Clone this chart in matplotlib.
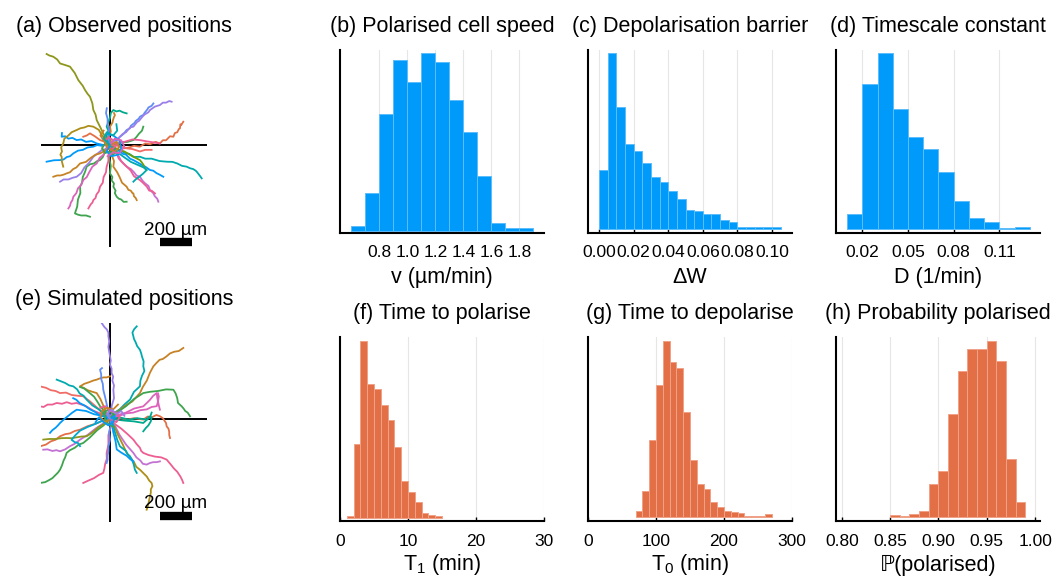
import numpy as np
import matplotlib.pyplot as plt

plt.rcParams['font.family'] = ['Liberation Sans', 'DejaVu Sans']
plt.rcParams['mathtext.fontset'] = 'custom'
plt.rcParams['mathtext.rm'] = 'Liberation Sans'
plt.rcParams['mathtext.it'] = 'Liberation Sans:italic'

BLUE = '#009AFA'
ORANGE = '#E36F47'

# ---- histogram data: first bin edge, bin width, bar heights (arbitrary units) ----
speed_start, speed_width = 0.6, 0.1
speed_counts = [13, 114, 350, 510, 444, 530, 503, 392, 294, 163, 23, 7, 9]
speed_ticks = [0.8, 1.0, 1.2, 1.4, 1.6, 1.8]

barrier_start, barrier_width = 0.0, 0.005
barrier_counts = [178, 528, 367, 254, 234, 198, 157, 142, 115, 89, 58,
                  53, 45, 45, 26, 22, 7, 7, 7, 5, 7]
barrier_ticks = [0.00, 0.02, 0.04, 0.06, 0.08, 0.10]

diff_start, diff_width = 0.01, 0.01
diff_counts = [46, 435, 528, 360, 278, 240, 172, 84, 32, 22, 4, 6]
diff_ticks = [0.02, 0.05, 0.08, 0.11]

t1_start, t1_width = 1, 1
t1_counts = [6, 220, 527, 399, 384, 337, 292, 212, 110, 76, 46, 15, 9, 5]
t1_ticks = [0, 10, 20, 30]

t0_start, t0_width = 70, 10
t0_counts = [19, 79, 232, 395, 529, 466, 448, 314, 172, 101, 85, 46, 30,
             19, 15, 12, 5, 5, 5, 11]
t0_ticks = [0, 100, 200, 300]

ppol_start, ppol_width = 0.85, 0.01
ppol_counts = [7, 4, 11, 20, 100, 138, 308, 439, 505, 505, 527, 467, 174, 46]
ppol_ticks = [0.80, 0.85, 0.90, 0.95, 1.00]

# ---- cell tracks (um), each starts at the origin ----
obs_colors = ['#8E971D', '#618DF6', '#9B7FE9', '#E36F47', '#00AAAE', '#009AFA',
              '#C371D2', '#ED5E93', '#C68225', '#3EA44E', '#ED5E93', '#3EA44E',
              '#DC63BB', '#9B7FE9', '#C68225', '#009AFA', '#009AFA', '#AC8E18',
              '#00A98D', '#C68225', '#3EA44E', '#618DF6', '#ED5E93', '#6D9F06',
              '#00AAAE', '#E36F47', '#F16C66',
              '#ED5E93', '#3EA44E', '#C68225', '#009AFA', '#DC63BB', '#00AAAE']
obs_tracks = [
    [(0, 0), (-10, 10), (-25, 40), (-42, 73), (-60, 110), (-83, 156), (-90, 190), (-104, 219),
     (-110, 260), (-125, 302), (-140, 320), (-156, 344), (-170, 370), (-198, 406), (-220, 450),
     (-250, 490), (-280, 500), (-312, 510), (-330, 535), (-354, 552), (-380, 560), (-396, 569)],
    [(0, 0), (20, 25), (45, 30), (60, 50), (85, 70), (104, 94), (125, 105), (130, 120),
     (155, 140), (160, 150), (180, 165), (187, 177), (210, 190), (215, 200), (235, 225),
     (240, 235), (260, 245), (271, 260)],
    [(0, 0), (30, 35), (50, 40), (80, 70), (100, 80), (125, 110), (146, 115), (170, 145),
     (180, 150), (205, 180), (215, 190), (240, 205), (250, 219), (280, 240), (312, 250),
     (330, 265), (350, 265), (370, 275), (385, 271)],
    [(0, 0), (30, 10), (60, -5), (90, -20), (120, -15), (150, -5), (187, -10), (220, 10),
     (250, 5), (285, 20), (312, 10), (330, 30), (350, 30), (375, 55), (396, 52), (405, 75),
     (420, 80), (430, 100), (437, 104), (440, 130), (445, 125), (458, 146)],
    [(0, 0), (30, -20), (60, -30), (95, -50), (120, -55), (150, -75), (187, -73), (220, -85),
     (260, -85), (310, -100), (354, -104), (390, -105), (420, -115), (450, -130), (479, -135),
     (500, -145), (520, -150), (535, -160), (542, -167), (560, -190), (573, -208)],
    [(0, 0), (25, -25), (50, -30), (80, -55), (100, -60), (125, -85), (146, -94), (175, -110),
     (200, -125), (220, -135), (250, -156), (270, -160), (290, -175), (310, -185), (333, -198)],
    [(0, 0), (30, -40), (50, -60), (70, -100), (104, -135), (130, -150), (150, -170),
     (165, -190), (187, -198), (205, -225), (220, -240), (240, -255), (250, -281),
     (270, -300), (280, -320), (295, -335), (302, -354)],
    [(0, 0), (25, -30), (40, -50), (55, -85), (83, -115), (105, -135), (130, -160),
     (150, -195), (187, -219), (205, -235), (230, -260), (245, -285), (260, -285), (281, -302)],
    [(0, 0), (15, -30), (10, -60), (25, -100), (21, -135), (45, -170), (60, -200), (75, -235),
     (104, -260), (115, -280), (130, -285), (140, -300), (146, -302), (150, -320), (160, -330),
     (167, -344)],
    [(0, 0), (10, -40), (-5, -80), (5, -130), (0, -177), (15, -200), (10, -220), (25, -240),
     (21, -260), (35, -285), (30, -300), (42, -323), (55, -335), (70, -340), (85, -355),
     (104, -354)],
    [(0, 0), (5, -30), (-10, -60), (-10, -100), (-21, -135), (-25, -170), (-40, -200),
     (-45, -235), (-62, -260), (-70, -290), (-85, -310), (-90, -330), (-104, -344),
     (-110, -360), (-120, -370), (-135, -396)],
    [(0, 0), (-15, -25), (-30, -40), (-45, -75), (-62, -94), (-80, -100), (-100, -115),
     (-125, -120), (-146, -135), (-155, -165), (-170, -200), (-175, -235), (-187, -260),
     (-185, -300), (-200, -340), (-205, -385), (-219, -427), (-200, -435), (-180, -440),
     (-150, -440), (-125, -448)],
    [(0, 0), (-25, -25), (-40, -60), (-65, -80), (-83, -115), (-110, -135), (-130, -170),
     (-145, -200), (-167, -219), (-180, -250), (-200, -270), (-210, -300), (-229, -323),
     (-235, -345), (-245, -360), (-250, -380), (-260, -396)],
    [(0, 0), (-25, -25), (-50, -30), (-80, -55), (-104, -73), (-130, -110), (-160, -140),
     (-180, -175), (-208, -198), (-235, -205), (-260, -215), (-290, -215), (-312, -229)],
    [(0, 0), (-30, -35), (-62, -52), (-90, -60), (-120, -80), (-150, -105), (-187, -115),
     (-210, -140), (-230, -150), (-250, -170), (-271, -177), (-290, -185), (-310, -190),
     (-330, -190), (-354, -198)],
    [(0, 0), (-25, 5), (-50, -5), (-80, 0), (-104, -10), (-140, -15), (-170, -30),
     (-200, -35), (-229, -52), (-250, -70), (-270, -75), (-290, -90), (-312, -94),
     (-350, -95), (-396, -104)],
    [(0, 0), (-40, 0), (-83, 10), (-115, 25), (-150, 20), (-180, 35), (-208, 31),
     (-235, 45), (-260, 40), (-280, 55), (-302, 52), (-300, 75)],
    [(0, 0), (-25, 35), (-50, 60), (-70, 95), (-104, 115), (-135, 120), (-160, 110),
     (-185, 105), (-208, 94), (-240, 80), (-260, 60), (-285, 40), (-292, 10), (-305, -15),
     (-300, -40), (-310, -60), (-302, -73), (-300, -105), (-292, -135)],
    [(0, 0), (-15, 30), (-21, 60), (-10, 90), (-21, 115), (-10, 145), (0, 170), (5, 200),
     (21, 219), (40, 210), (60, 215), (80, 205), (104, 198)],
    [(0, 0), (5, 30), (-10, 50), (5, 85), (0, 115), (15, 140), (20, 160), (25, 175),
     (31, 187), (25, 200)],
    [(0, 0), (35, 5), (70, 15), (110, 20), (146, 31), (165, 50), (180, 70), (200, 90),
     (208, 115)],
    [(0, 0), (-5, 30), (-10, 60), (-5, 95), (-15, 130), (-15, 165), (-25, 200), (-20, 230)],
    [(0, 0), (45, 15), (90, 20), (140, 35), (187, 31), (220, 25), (250, 20), (280, 15),
     (312, 10)],
    [(0, 0), (45, -25), (90, -40), (140, -70), (187, -94), (200, -110), (210, -125),
     (215, -140), (229, -156)],
    [(0, 0), (40, -40), (80, -70), (130, -105), (187, -130), (210, -140), (229, -156),
     (205, -180), (180, -200), (160, -215), (146, -229)],
    [(0, 0), (-30, 20), (-62, 31), (-95, 55), (-125, 73), (-145, 60), (-167, 52)],
    [(0, 0), (50, -5), (100, -20), (140, -25), (187, -40), (220, -30), (260, -30)],
    [(0, 0), (20, 30), (-10, 50), (-30, 20), (-20, -20), (10, -30), (30, -10), (50, 15)],
    [(0, 0), (-30, 10), (-50, -20), (-30, -50), (0, -40), (20, -60), (40, -40)],
    [(0, 0), (40, 20), (60, -10), (30, -40), (-10, -20), (-40, 30), (-60, 60), (-40, 90)],
    [(0, 0), (-20, -40), (10, -70), (50, -60), (70, -20), (60, 30), (20, 60), (-20, 70)],
    [(0, 0), (30, 40), (70, 30), (90, -10), (60, -50), (20, -45), (-15, -70)],
    [(0, 0), (-40, 40), (-20, 80), (20, 60), (45, 90), (40, 130)],
]

sim_colors = ['#9B7FE9', '#00AAAE', '#C68225', '#3EA44E', '#DC63BB', '#E36F47', '#00A98D',
              '#ED5E93', '#C371D2', '#AC8E18', '#00AAAE', '#009AFA', '#ED5E93', '#618DF6',
              '#3EA44E', '#C371D2', '#E36F47', '#8E971D', '#009AFA', '#00A9CD', '#ED5E93',
              '#F16C66', '#00AAAE', '#C68225', '#618DF6', '#3EA44E', '#DC63BB', '#009AFA',
              '#00A98D', '#3EA44E', '#ED5E93', '#C68225', '#009AFA', '#9B7FE9']
sim_tracks = [
    [(0, 0), (10, 40), (10, 79), (25, 130), (21, 183), (25, 210), (15, 240), (20, 265),
     (10, 287), (10, 315), (0, 340), (5, 365), (0, 392), (-5, 420), (-10, 450), (-5, 485),
     (-10, 517), (-10, 540), (-20, 560), (-35, 575), (-52, 600)],
    [(0, 0), (30, 40), (60, 60), (95, 95), (125, 121), (150, 170), (187, 204), (190, 240),
     (200, 270), (215, 300), (208, 329), (210, 360), (200, 390), (195, 410), (187, 433),
     (170, 455), (160, 480), (150, 500), (146, 517), (140, 540), (150, 560), (167, 579)],
    [(0, 0), (45, 45), (90, 80), (140, 110), (187, 162), (205, 200), (230, 240), (250, 290),
     (271, 329), (290, 350), (310, 370), (330, 375), (354, 392), (375, 410), (400, 420),
     (430, 425), (458, 444)],
    [(0, 0), (50, 45), (100, 80), (150, 125), (208, 162), (250, 170), (300, 175), (350, 185),
     (396, 183), (410, 160), (420, 130), (425, 100), (448, 79), (460, 65), (470, 50),
     (485, 40), (500, 17)],
    [(0, 0), (50, 25), (100, 40), (150, 65), (208, 79), (235, 105), (250, 120), (270, 145),
     (292, 162), (295, 135), (300, 110), (305, 85), (312, 58)],
    [(0, 0), (50, 10), (100, -5), (150, 5), (208, -4), (235, 15), (260, 10), (290, 25),
     (312, 17), (330, 5), (340, -10), (350, -25), (354, -46), (365, -60), (370, -80),
     (370, -100), (375, -119)],
    [(0, 0), (60, 10), (120, -4), (170, 5), (229, -4), (245, 15), (260, 10), (255, -15),
     (240, -40), (225, -55), (208, -77)],
    [(0, 0), (35, -35), (70, -60), (110, -95), (146, -129), (165, -155), (187, -180),
     (195, -200), (208, -212), (240, -225), (280, -235), (320, -240), (354, -254),
     (380, -285), (400, -310), (420, -330), (440, -360), (450, -380), (458, -400)],
    [(0, 0), (35, -50), (60, -100), (100, -160), (146, -212), (165, -240), (190, -260),
     (205, -280), (229, -285), (250, -275), (270, -270), (290, -270), (312, -265)],
    [(0, 0), (30, -50), (50, -100), (80, -160), (104, -212), (130, -245), (150, -270),
     (165, -300), (187, -317), (210, -340), (230, -360), (245, -385), (260, -400),
     (265, -420), (255, -440), (255, -460), (250, -483), (245, -505), (240, -530),
     (235, -550), (229, -567)],
    [(0, 0), (20, -40), (30, -80), (45, -130), (62, -171), (80, -185), (100, -200),
     (110, -220), (125, -233), (140, -260), (150, -290), (155, -315), (167, -337)],
    [(0, 0), (15, -40), (20, -80), (35, -140), (42, -190), (70, -210), (104, -230),
     (125, -250), (146, -265)],
    [(0, 0), (5, -50), (-10, -100), (-10, -160), (-21, -212), (-20, -250), (-30, -280),
     (-35, -310), (-42, -337), (-70, -350), (-100, -370), (-135, -385), (-167, -400)],
    [(0, 0), (5, -40), (-5, -80), (0, -130), (-10, -171), (-10, -200), (-15, -230),
     (-15, -255), (-21, -275)],
    [(0, 0), (-40, -40), (-80, -70), (-125, -115), (-167, -150), (-195, -160), (-220, -180),
     (-250, -195), (-271, -212), (-280, -240), (-290, -260), (-300, -290), (-312, -317),
     (-325, -335), (-340, -350), (-360, -370), (-375, -379), (-405, -395), (-437, -400)],
    [(0, 0), (-45, -30), (-90, -60), (-140, -100), (-187, -129), (-220, -155), (-250, -170),
     (-280, -190), (-312, -202), (-335, -195), (-360, -200), (-390, -190), (-417, -192)],
    [(0, 0), (-45, -10), (-90, -30), (-140, -45), (-187, -67), (-220, -75), (-250, -90),
     (-280, -95), (-312, -108), (-340, -130), (-370, -140), (-400, -160), (-437, -171)],
    [(0, 0), (-35, -30), (-70, -50), (-110, -85), (-146, -108), (-180, -110), (-210, -115),
     (-240, -120), (-271, -119), (-305, -120), (-340, -125), (-380, -125), (-417, -129)],
    [(0, 0), (-50, 20), (-100, 30), (-150, 50), (-208, 58), (-235, 40), (-260, 20),
     (-285, 0), (-312, -25), (-325, -40), (-340, -55), (-360, -70), (-375, -87)],
    [(0, 0), (-45, -10), (-90, -30), (-140, -50), (-187, -73), (-215, -100), (-240, -130),
     (-220, -145), (-200, -150), (-187, -170)],
    [(0, 0), (-50, 30), (-100, 50), (-150, 80), (-208, 100), (-240, 95), (-270, 105),
     (-300, 95), (-333, 100), (-360, 90), (-390, 90), (-415, 75), (-437, 79)],
    [(0, 0), (-40, 40), (-80, 70), (-125, 110), (-167, 142), (-200, 145), (-240, 150),
     (-275, 165), (-312, 162), (-340, 175), (-370, 180), (-400, 195), (-437, 204)],
    [(0, 0), (-35, 25), (-70, 60), (-110, 85), (-146, 121), (-165, 145), (-190, 160),
     (-205, 185), (-229, 204), (-255, 210), (-280, 225), (-305, 235), (-333, 246)],
    [(0, 0), (-25, 40), (-40, 80), (-60, 125), (-83, 162), (-110, 170), (-140, 180),
     (-165, 195), (-187, 204), (-160, 220), (-130, 230), (-105, 240), (-83, 246),
     (-60, 255), (-40, 260), (-20, 260), (0, 267)],
    [(0, 0), (-10, 45), (-20, 90), (-30, 135), (-42, 183), (-45, 220), (-55, 250),
     (-55, 280), (-62, 308), (-50, 318)],
    [(0, 0), (-15, 20), (-30, 40), (-45, 60), (-62, 80), (-80, 110), (-100, 140),
     (-130, 165), (-160, 190), (-187, 200)],
    [(0, 0), (30, 15), (60, 20), (100, 35), (146, 40), (190, 55), (230, 60), (260, 75),
     (292, 80), (300, 110), (305, 140), (300, 160)],
    [(0, 0), (-30, 15), (-62, 20), (-95, 45), (-125, 60), (-160, 85), (-190, 100),
     (-210, 120), (-230, 130)],
    [(0, 0), (45, -5), (90, -10), (150, -15), (208, -25), (230, -5), (250, 10), (255, 25),
     (260, 40)],
    [(0, 0), (20, 30), (-10, 60), (-40, 40), (-30, 0), (-10, -30), (20, -50)],
    [(0, 0), (40, -20), (60, 10), (40, 40), (0, 50), (-30, 80), (-60, 70)],
    [(0, 0), (-30, -20), (-60, 10), (-50, 50), (-20, 70), (20, 60), (50, 90)],
    [(0, 0), (30, 20), (20, -20), (-10, -40), (-40, -20), (-70, 10), (-90, -20)],
    [(0, 0), (-20, 30), (10, 60), (40, 30), (70, 50), (90, 20)],
]

W, H = 1059, 577
fig = plt.figure(figsize=(W / 100, H / 100), dpi=100)


def px_axes(x0, y0, x1, y1):
    return fig.add_axes([x0 / W, 1 - y1 / H, (x1 - x0) / W, (y1 - y0) / H])


TITLE_FS = 15.5
TICK_FS = 12.5


def track_panel(ax, tracks, colors, title, ylim):
    ax.axhline(0, color='black', lw=1.4, zorder=1)
    ax.axvline(0, color='black', lw=1.4, zorder=1)
    for tr, c in zip(tracks, colors):
        xy = np.array(tr)
        ax.plot(xy[:, 0], xy[:, 1], color=c, lw=1.3, zorder=2)
    # scale bar 200 um
    ax.plot([312.5, 512.5], [-606, -606], color='black', lw=6, solid_capstyle='butt', zorder=3)
    ax.text(412, -531, '200 µm', ha='center', va='center', fontsize=13.5, zorder=3)
    ax.set_xlim(-431, 606)
    ax.set_ylim(*ylim)
    ax.axis('off')
    ax.set_title(title, fontsize=TITLE_FS, pad=13)


def hist_panel(ax, start, width, counts, color, edge, ticks, fmt, xlim, ylim, xlabel, title,
               labelpad=5):
    lefts = start + width * np.arange(len(counts))
    ax.bar(lefts, counts, width=width, align='edge', color=color,
           edgecolor=edge, linewidth=0.7, zorder=2)
    ax.set_xlim(*xlim)
    ax.set_ylim(*ylim)
    ax.set_xticks(ticks)
    ax.set_xticklabels([fmt.format(t) for t in ticks])
    ax.set_yticks([])
    ax.grid(axis='x', color='#E6E6E6', lw=0.8, zorder=0)
    ax.set_axisbelow(True)
    for s in ['top', 'right']:
        ax.spines[s].set_visible(False)
    for s in ['left', 'bottom']:
        ax.spines[s].set_linewidth(1.5)
    ax.tick_params(axis='x', direction='in', length=3, width=1, labelsize=TICK_FS, pad=9)
    ax.set_xlabel(xlabel, fontsize=TITLE_FS, labelpad=labelpad)
    ax.set_title(title, fontsize=TITLE_FS, pad=13)


# left column: trajectories
ax_a = px_axes(41, 50, 207, 247)
track_panel(ax_a, obs_tracks, obs_colors, '(a) Observed positions', (-637, 594))
ax_e = px_axes(41, 323, 207, 522)
track_panel(ax_e, sim_tracks, sim_colors, '(e) Simulated positions', (-644, 600))

cols = [(340, 544), (588, 792), (836, 1040)]
top_row = (50, 233)
bot_row = (337, 521)
BLUE_EDGE = '#5CBDFB'
ORANGE_EDGE = '#EFA288'

ax_b = px_axes(cols[0][0], top_row[0], cols[0][1], top_row[1])
hist_panel(ax_b, speed_start, speed_width, speed_counts, BLUE, BLUE_EDGE, speed_ticks,
           '{:.1f}', (0.519, 1.976), (-7, 540), 'v (µm/min)', '(b) Polarised cell speed')

ax_c = px_axes(cols[1][0], top_row[0], cols[1][1], top_row[1])
hist_panel(ax_c, barrier_start, barrier_width, barrier_counts, BLUE, BLUE_EDGE, barrier_ticks,
           '{:.2f}', (-0.0064, 0.1116), (-12, 538), 'ΔW', '(c) Depolarisation barrier')

ax_d = px_axes(cols[2][0], top_row[0], cols[2][1], top_row[1])
hist_panel(ax_d, diff_start, diff_width, diff_counts, BLUE, BLUE_EDGE, diff_ticks,
           '{:.2f}', (0.0027, 0.1367), (-12, 538), 'D (1/min)', '(d) Timescale constant')

ax_f = px_axes(cols[0][0], bot_row[0], cols[0][1], bot_row[1])
hist_panel(ax_f, t1_start, t1_width, t1_counts, ORANGE, ORANGE_EDGE, t1_ticks,
           '{:d}', (0, 30), (-10, 540), r'T$_\mathregular{1}$ (min)', '(f) Time to polarise',
           labelpad=2.5)

ax_g = px_axes(cols[1][0], bot_row[0], cols[1][1], bot_row[1])
hist_panel(ax_g, t0_start, t0_width, t0_counts, ORANGE, ORANGE_EDGE, t0_ticks,
           '{:d}', (0, 300), (-11, 540), r'T$_\mathregular{0}$ (min)', '(g) Time to depolarise',
           labelpad=2.5)

ax_h = px_axes(cols[2][0], bot_row[0], cols[2][1], bot_row[1])
hist_panel(ax_h, ppol_start, ppol_width, ppol_counts, ORANGE, ORANGE_EDGE, ppol_ticks,
           '{:.2f}', (0.794, 1.005), (-11, 540), 'ℙ(polarised)', '(h) Probability polarised')

fig.savefig('out.png', dpi=100)
